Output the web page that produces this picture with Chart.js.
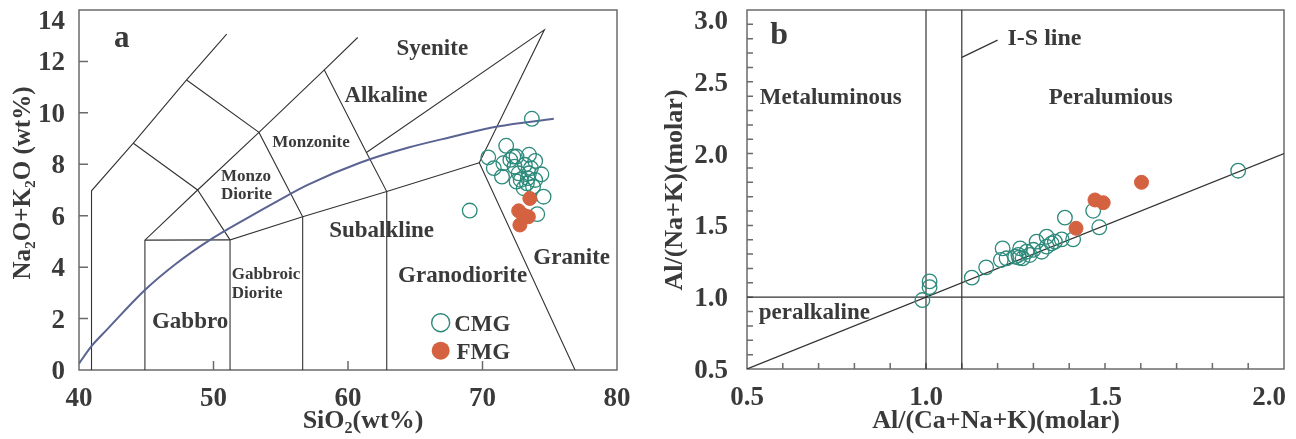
<!DOCTYPE html>
<html>
<head>
<meta charset="utf-8">
<script src="https://cdn.jsdelivr.net/npm/chart.js@4.4.1/dist/chart.umd.min.js"></script>
<style>
  body { margin: 0; background: #fff; }
  #wrap { position: relative; width: 1296px; height: 439px; }
  canvas { position: absolute; top: 0; }
  #tas { left: 0; }
  #acnk { left: 648px; }
</style>
</head>
<body>
<div id="wrap">
  <canvas id="tas" width="648" height="439"></canvas>
  <canvas id="acnk" width="648" height="439"></canvas>
</div>
<script>
// ---- (a) TAS diagram ----
const cmgSiO2 = [73.67, 71.76, 70.43, 71.55, 72.53, 73.46, 73.92, 72.38, 73.15, 73.60, 71.45, 72.69, 73.46, 74.38,
                 72.53, 73.30, 73.06, 73.76, 74.54, 74.07, 69.05, 70.84, 72.07, 72.84, 73.37, 73.92, 72.29];
const cmgAlk  = [9.77, 8.72, 8.27, 8.04, 8.30, 8.37, 8.13, 7.91, 7.98, 7.85, 7.52, 7.65, 7.65, 7.61,
                 7.33, 7.26, 7.07, 7.13, 6.74, 6.06, 6.20, 7.85, 8.17, 7.39, 7.46, 7.39, 8.30];
const fmgSiO2 = [73.52, 72.69, 73.41, 72.78, 73.06];
const fmgAlk  = [6.67, 6.19, 5.96, 5.64, 6.02];

const tasXLabels = [40, 50, 60, 70, 80];
const tasYLabels = [0, 2, 4, 6, 8, 10, 12, 14];

// field boundaries (SiO2, Na2O+K2O)
const tasFields = [
  [[40.93, 0], [40.93, 6.97], [44.04, 8.82], [48.0, 11.28], [50.98, 13.06]],
  [[44.04, 8.82], [48.82, 7.0], [51.23, 5.06]],
  [[48.0, 11.28], [53.38, 9.24], [56.63, 5.96]],
  [[44.9, 0], [44.9, 5.05], [48.82, 7.0], [53.38, 9.24], [58.24, 11.67], [60.72, 12.93]],
  [[44.9, 5.05], [51.23, 5.06]],
  [[51.23, 0], [51.23, 5.06], [56.63, 5.96], [62.88, 6.94], [69.76, 8.06]],
  [[56.63, 0], [56.63, 5.96]],
  [[58.24, 11.67], [61.37, 8.46], [62.88, 6.94], [62.88, 0]],
  [[61.37, 8.46], [74.6, 13.23], [69.76, 8.06], [76.88, 0]]
];
// alkaline / subalkaline divide
const ibCurve = [[40, 0.25], [40.9, 0.91], [42.06, 1.56], [44.9, 3.11], [47.26, 4.15], [49.74, 5.06],
                 [52.47, 5.9], [54.82, 6.59], [57.0, 7.2], [60.89, 8.06], [64.5, 8.65], [67.6, 9.05],
                 [71.1, 9.47], [75.3, 9.77]];

const tasNotes = [
  { t: 'a', x: 43.18, y: 12.87, size: 31 },
  { t: 'Syenite', x: 66.27, y: 12.48, size: 23 },
  { t: 'Alkaline', x: 62.82, y: 10.67, size: 23 },
  { t: 'Monzonite', x: 57.25, y: 8.84, size: 17 },
  { t: 'Monzo', x: 50.56, y: 7.52, size: 17, align: 'left' },
  { t: 'Diorite', x: 50.56, y: 6.83, size: 17, align: 'left' },
  { t: 'Subalkline', x: 62.5, y: 5.42, size: 23 },
  { t: 'Gabbroic', x: 51.35, y: 3.70, size: 17, align: 'left' },
  { t: 'Diorite', x: 51.35, y: 2.98, size: 17, align: 'left' },
  { t: 'Granodiorite', x: 68.52, y: 3.66, size: 23 },
  { t: 'Granite', x: 76.63, y: 4.35, size: 23 },
  { t: 'Gabbro', x: 48.26, y: 1.88, size: 23 }
];

// ---- (b) A/NK vs A/CNK ----
const cmgACNK = [0.99, 1.01, 1.01, 1.128, 1.168, 1.214, 1.209, 1.225, 1.249, 1.258, 1.263, 1.27, 1.281, 1.29,
                 1.309, 1.323, 1.337, 1.337, 1.351, 1.36, 1.379, 1.411, 1.388, 1.467, 1.484, 1.872, 1.26, 1.30];
const cmgANK  = [0.98, 1.11, 1.07, 1.136, 1.208, 1.34, 1.259, 1.271, 1.282, 1.294, 1.34, 1.271, 1.317, 1.294,
                 1.387, 1.317, 1.421, 1.352, 1.375, 1.387, 1.403, 1.403, 1.554, 1.602, 1.487, 1.881, 1.275, 1.33];
const fmgACNK = [1.419, 1.472, 1.495, 1.602];
const fmgANK  = [1.48, 1.677, 1.658, 1.80];

const acnkXLabels = [0.5, 1.0, 1.5, 2.0];
const acnkYLabels = [0.5, 1.0, 1.5, 2.0, 2.5, 3.0];
const acnkMinor = [0.6, 0.7, 0.8, 0.9, 1.0, 1.1, 1.2, 1.3, 1.4, 1.5, 1.6, 1.7, 1.8, 1.9,
                   2.0, 2.1, 2.2, 2.3, 2.4, 2.5, 2.6, 2.7, 2.8, 2.9];

const acnkGuides = [
  [[0.5, 0.5], [2.0, 2.0]],
  [[1.0, 0.5], [1.0, 3.0]],
  [[1.1, 0.5], [1.1, 3.0]],
  [[0.5, 1.0], [2.0, 1.0]],
  [[1.1, 2.67], [1.2, 2.79]]
];

const acnkNotes = [
  { t: 'b', x: 0.59, y: 2.82, size: 32 },
  { t: 'I-S line', x: 1.331, y: 2.798, size: 24 },
  { t: 'Metaluminous', x: 0.734, y: 2.384, size: 23 },
  { t: 'Peralumious', x: 1.516, y: 2.384, size: 23 },
  { t: 'peralkaline', x: 0.688, y: 0.888, size: 23 }
];

// ---- styles ----
const SERIF = '"Liberation Serif", "Times New Roman", serif';
const INK = '#3a3a3a';
const TEAL = '#2c8a7b';
const RUST = '#d4613f';
const font = s => `bold ${s}px ${SERIF}`;

const zip = (xs, ys) => xs.map((x, i) => ({ x, y: ys[i] }));
const pts = arr => arr.map(([x, y]) => ({ x, y }));

function lineSet(arr, color, width, order, extra) {
  return {
    data: pts(arr), showLine: true, pointRadius: 0, borderColor: color,
    borderWidth: width, fill: false, order, ...extra
  };
}

function drawRich(ctx, parts, size, x, y, rotate) {
  ctx.save();
  ctx.translate(x, y);
  if (rotate) ctx.rotate(-Math.PI / 2);
  ctx.textAlign = 'left';
  ctx.textBaseline = 'alphabetic';
  const widths = parts.map(([t, sub]) => { ctx.font = font(sub ? size * 0.62 : size); return ctx.measureText(t).width; });
  let cx = -widths.reduce((s, w) => s + w, 0) / 2;
  parts.forEach(([t, sub], i) => {
    ctx.font = font(sub ? size * 0.62 : size);
    ctx.fillText(t, cx, sub ? size * 0.2 : 0);
    cx += widths[i];
  });
  ctx.restore();
}

// frame, inward ticks, tick labels, titles and field names
const decor = {
  id: 'decor',
  beforeDatasetsDraw(chart, args, o) {
    const { ctx, chartArea: a, scales: { x, y } } = chart;
    ctx.save();
    ctx.fillStyle = INK;
    ctx.textBaseline = 'middle';
    o.notes.forEach(n => {
      ctx.font = font(n.size);
      ctx.textAlign = n.align || 'center';
      ctx.fillText(n.t, x.getPixelForValue(n.x), y.getPixelForValue(n.y));
    });

    ctx.strokeStyle = '#6b6b6b';
    ctx.lineWidth = 1.5;
    ctx.strokeRect(a.left, a.top, a.right - a.left, a.bottom - a.top);
    ctx.beginPath();
    o.xMarks.forEach(v => {
      const px = x.getPixelForValue(v);
      if (px > a.left + 1 && px < a.right - 1) { ctx.moveTo(px, a.bottom); ctx.lineTo(px, a.bottom - o.tickLen); }
    });
    o.yMarks.forEach(v => {
      const py = y.getPixelForValue(v);
      if (py > a.top + 1 && py < a.bottom - 1) { ctx.moveTo(a.left, py); ctx.lineTo(a.left + o.tickLen, py); }
    });
    ctx.stroke();

    ctx.font = font(27);
    ctx.textBaseline = 'alphabetic';
    ctx.textAlign = 'center';
    o.xLabels.forEach(v => {
      const s = o.fmt(v);
      const w = ctx.measureText(s).width;
      const px = Math.min(x.getPixelForValue(v), chart.width - 10 - w / 2);
      ctx.fillText(s, px, a.bottom + 36);
    });
    ctx.textAlign = 'right';
    o.yLabels.forEach(v => {
      const py = Math.max(y.getPixelForValue(v), a.top + 10);
      ctx.fillText(o.fmt(v), a.left - o.yPad, py + 9);
    });

    drawRich(ctx, o.xTitle.parts, 26, o.xTitle.x, o.xTitle.y, false);
    drawRich(ctx, o.yTitle.parts, o.yTitle.size, o.yTitle.x, o.yTitle.y, true);
    ctx.restore();
  },
  afterDatasetsDraw(chart, args, o) {
    if (!o.legend) return;
    const { ctx, scales: { x, y } } = chart;
    ctx.save();
    o.legend.forEach(l => {
      const px = x.getPixelForValue(l.x), py = y.getPixelForValue(l.y);
      ctx.beginPath();
      ctx.arc(px, py, 9, 0, Math.PI * 2);
      if (l.filled) { ctx.fillStyle = RUST; ctx.fill(); }
      else { ctx.strokeStyle = TEAL; ctx.lineWidth = 1.4; ctx.stroke(); }
      ctx.fillStyle = INK;
      ctx.font = font(23);
      ctx.textAlign = 'left';
      ctx.textBaseline = 'alphabetic';
      ctx.fillText(l.t, x.getPixelForValue(l.tx), py + 8);
    });
    ctx.restore();
  }
};

const hollow = { pointRadius: 7.3, pointBorderWidth: 1.3, pointBorderColor: TEAL, pointBackgroundColor: 'rgba(0,0,0,0)', order: 0 };
const solid = { pointRadius: 7, pointBorderWidth: 1, pointBorderColor: RUST, pointBackgroundColor: RUST, order: 0 };

function baseOptions(xr, yr, padding, decorOpts) {
  return {
    responsive: false,
    animation: false,
    events: [],
    layout: { padding },
    scales: {
      x: { type: 'linear', display: false, min: xr[0], max: xr[1] },
      y: { type: 'linear', display: false, min: yr[0], max: yr[1] }
    },
    plugins: { legend: { display: false }, tooltip: { enabled: false }, decor: decorOpts }
  };
}

new Chart(document.getElementById('tas'), {
  type: 'scatter',
  data: {
    datasets: [
      { data: zip(fmgSiO2, fmgAlk), ...solid },
      { data: zip(cmgSiO2, cmgAlk), ...hollow },
      lineSet(ibCurve, '#5a6392', 2, 1, { cubicInterpolationMode: 'monotone' }),
      ...tasFields.map(f => lineSet(f, '#333', 1.1, 2))
    ]
  },
  options: baseOptions([40, 80], [0, 14], { left: 79, right: 31, top: 10, bottom: 69 }, {
    tickLen: 9, xMarks: tasXLabels, yMarks: tasYLabels, xLabels: tasXLabels, yLabels: tasYLabels,
    fmt: v => String(v), yPad: 14, notes: tasNotes,
    xTitle: { parts: [['SiO', 0], ['2', 1], ['(wt%)', 0]], x: 363, y: 428 },
    yTitle: { parts: [['Na', 0], ['2', 1], ['O+K', 0], ['2', 1], ['O (wt%)', 0]], size: 25, x: 30, y: 183 },
    legend: [
      { t: 'CMG', x: 66.89, y: 1.84, tx: 67.9, filled: false },
      { t: 'FMG', x: 66.89, y: 0.75, tx: 68.06, filled: true }
    ]
  }),
  plugins: [decor]
});

new Chart(document.getElementById('acnk'), {
  type: 'scatter',
  data: {
    datasets: [
      { data: zip(fmgACNK, fmgANK), ...solid },
      { data: zip(cmgACNK, cmgANK), ...hollow },
      ...acnkGuides.map(g => lineSet(g, '#333', 1.2, 2))
    ]
  },
  options: baseOptions([0.5, 2.0], [0.5, 3.0], { left: 99, right: 12, top: 10, bottom: 70 }, {
    tickLen: 6, xMarks: acnkMinor, yMarks: acnkMinor, xLabels: acnkXLabels, yLabels: acnkYLabels,
    fmt: v => v.toFixed(1), yPad: 19, notes: acnkNotes,
    xTitle: { parts: [['Al/(Ca+Na+K)(molar)', 0]], x: 348, y: 428 },
    yTitle: { parts: [['Al/(Na+K)(molar)', 0]], size: 26, x: 34, y: 190 }
  }),
  plugins: [decor]
});
</script>
</body>
</html>
